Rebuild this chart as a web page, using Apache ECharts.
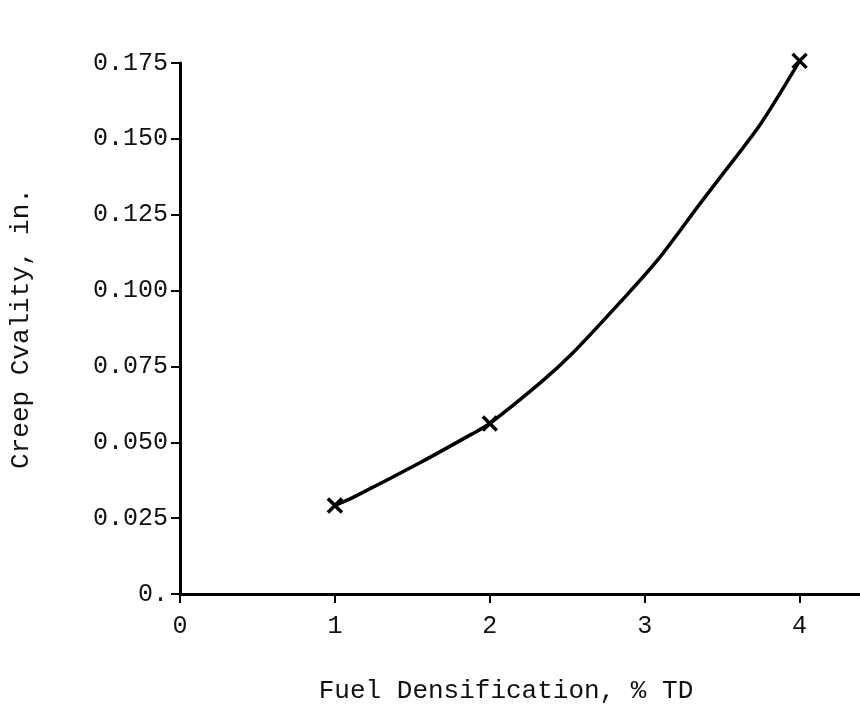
<!DOCTYPE html>
<html>
<head>
<meta charset="utf-8">
<script src="https://cdn.jsdelivr.net/npm/echarts@6/dist/echarts.min.js"></script>
<style>html,body{margin:0;padding:0;background:#fff;}#c{width:860px;height:709px;}</style>
</head>
<body>
<div id="c"></div>
<script>
// Measured data points (x marks)
const densification = [1, 2, 4];
const creepOvality = [0.0292, 0.0562, 0.1757];
// Fitted curve
const curveX = [1, 1.127, 1.558, 1.88, 2, 2.331, 2.537, 2.846, 3.084, 3.361, 3.522, 3.748, 4];
const curveY = [0.0292, 0.0321, 0.0435, 0.0526, 0.0562, 0.0698, 0.0795, 0.0964, 0.1101, 0.1289, 0.1396, 0.1549, 0.1757];
const xTicks = [0, 1, 2, 3, 4];

const FONT = 'Liberation Mono';
const chart = echarts.init(document.getElementById('c'), null, {renderer: 'canvas'});
chart.setOption({
  animation: false,
  backgroundColor: '#fff',
  grid: {left: 178, right: 0, top: 63, bottom: 107, containLabel: false},
  xAxis: {
    type: 'value', min: 0, max: 4.39,
    name: 'Fuel Densification, % TD', nameLocation: 'middle', nameGap: 84,
    nameTextStyle: {fontFamily: FONT, fontSize: 26, color: '#111', padding: [0, 28, 0, 0]},
    axisLine: {show: true, lineStyle: {color: '#000', width: 3}},
    axisTick: {show: true, length: 9, customValues: xTicks, lineStyle: {color: '#000', width: 2}},
    axisLabel: {customValues: xTicks, fontFamily: FONT, fontSize: 25, color: '#111', margin: 20,
      formatter: v => String(v)},
    splitLine: {show: false}
  },
  yAxis: {
    type: 'value', min: 0, max: 0.175, interval: 0.025,
    name: 'Creep Cvality, in.', nameLocation: 'middle', nameGap: 146, nameRotate: 90,
    nameTextStyle: {fontFamily: FONT, fontSize: 26, color: '#111'},
    axisLine: {show: true, lineStyle: {color: '#000', width: 3}},
    axisTick: {show: true, length: 9, lineStyle: {color: '#000', width: 2}},
    axisLabel: {fontFamily: FONT, fontSize: 25, color: '#111', margin: 12,
      formatter: v => (v === 0 ? '0.' : v.toFixed(3))},
    splitLine: {show: false}
  },
  series: [
    {
      type: 'line', smooth: 0.3, symbol: 'none',
      data: curveX.map((x, i) => [x, curveY[i]]),
      lineStyle: {color: '#000', width: 3.5},
      clip: false, z: 2
    },
    {
      type: 'scatter',
      symbol: 'path://M0,0 L10,10 M10,0 L0,10',
      symbolSize: 14,
      data: densification.map((x, i) => [x, creepOvality[i]]),
      itemStyle: {color: 'none', borderColor: '#000', borderWidth: 3.5, opacity: 1},
      clip: false, z: 3
    }
  ]
});
</script>
</body>
</html>
